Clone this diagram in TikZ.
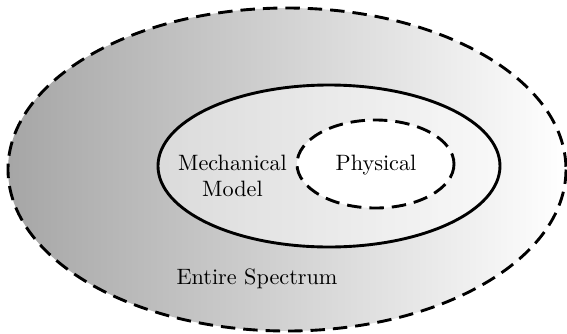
\documentclass[tikz,border=0pt]{standalone}
\usetikzlibrary{shapes.geometric}
\begin{document}
\begin{tikzpicture}[x=0.45pt,y=-0.45pt,
  dashline/.style={line width=1.3pt,dash pattern=on 6.5pt off 3.6pt},
  solidline/.style={line width=1.3pt},
  lbl/.style={font=\normalsize,align=center,inner sep=0pt}]
\useasboundingbox (0,0) rectangle (567,334);
% outer region
\shade[left color=black!35, right color=white] (287,169.5) ellipse [x radius=279, y radius=161.5];
\draw[dashline] (287,169.5) ellipse [x radius=279, y radius=161.5];
% mechanical model
\fill[white,fill opacity=0.45] (329,166) ellipse [x radius=171, y radius=81];
\draw[solidline] (329,166) ellipse [x radius=171, y radius=81];
% physical
\fill[white] (375.5,164) ellipse [x radius=78.5, y radius=44];
\draw[dashline] (375.5,164) ellipse [x radius=78.5, y radius=44];
% labels
\node[lbl] (mech) at (232.5,176) {Mechanical\\Model};
\node[lbl] (phys) at (376,165) {Physical};
\node[lbl] (entire) at (257,279) {Entire Spectrum};
\end{tikzpicture}
\end{document}
